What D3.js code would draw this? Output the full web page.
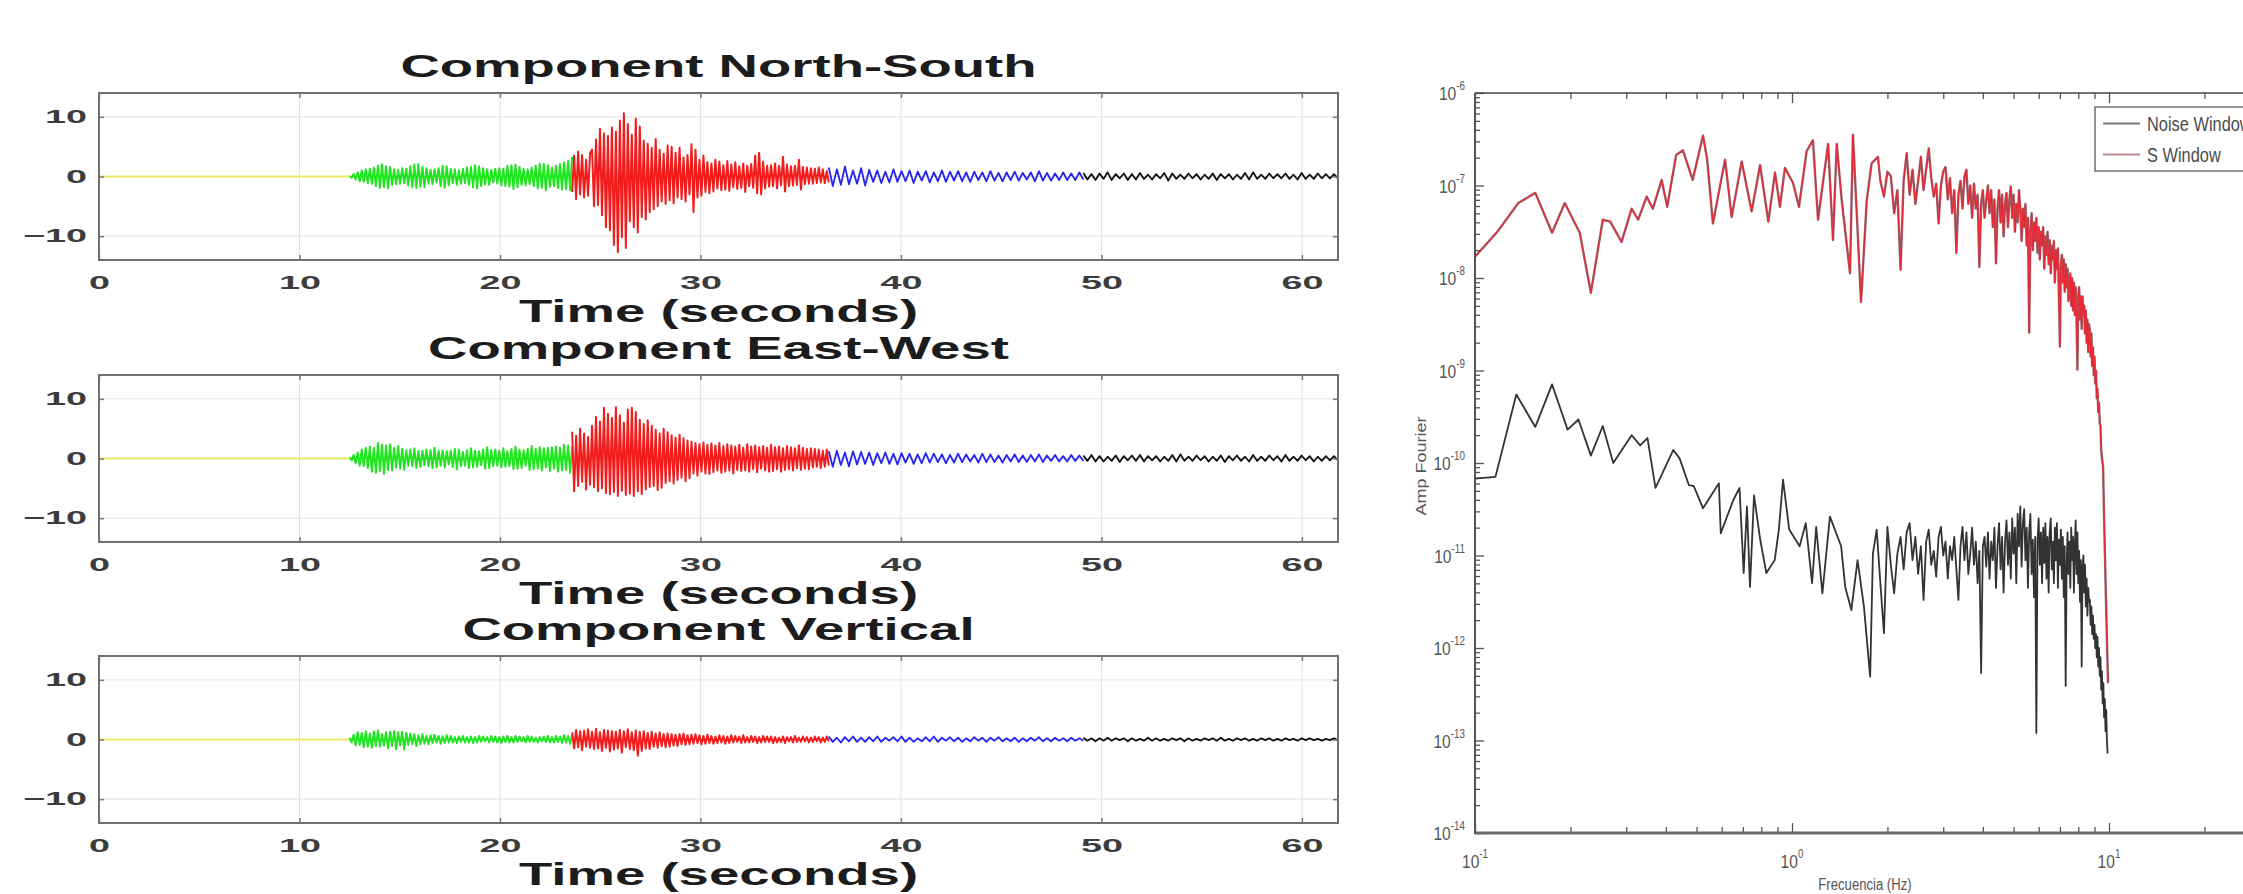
<!DOCTYPE html>
<html>
<head>
<meta charset="utf-8">
<script src="https://cdn.jsdelivr.net/npm/d3@7"></script>
<style>
  body { margin: 0; background: #fff; }
  svg { display: block; }
</style>
</head>
<body>
<svg id="chart" width="2243" height="894"></svg>
<script>
// ---------- datos: sismogramas (ventanas de tiempo) ----------
const windowEdges = [0, 12.5, 23.6, 36.4, 49.1, 61.8];
const windowColors = ["#efe968", "#1fe61f", "#f31c1c", "#2424f4", "#111111"];
const componentTitles = ["Component North-South", "Component East-West", "Component Vertical"];
const timeTicks = [0, 10, 20, 30, 40, 50, 60];
const ampTicks = [-10, 0, 10];

// Norte-Sur
const nsPre = [0, 0];
const nsGreen = [0.1,-0.2,0.4,-0.5,0.7,-0.8,1.0,-0.9,1.2,-1.1,
  1.3,-1.2,1.5,-1.6,1.8,-1.9,2.0,-1.8,1.7,-2.0,
  1.6,-1.4,1.2,-1.3,1.1,-1.2,1.4,-1.1,1.3,-1.5,
  1.7,-1.8,2.0,-1.9,2.1,-1.7,1.6,-1.8,1.4,-1.2,
  1.1,-1.3,1.2,-1.0,1.4,-1.6,1.8,-1.9,1.7,-1.5,
  1.3,-1.1,1.2,-1.4,1.0,-1.2,1.3,-1.1,1.5,-1.4,
  1.6,-1.8,1.9,-2.0,1.7,-1.6,1.4,-1.3,1.2,-1.4,
  1.1,-1.0,1.3,-1.2,1.4,-1.5,1.3,-1.6,1.8,-1.7,
  1.9,-2.1,2.0,-1.8,1.6,-1.4,1.3,-1.5,1.2,-1.3,
  1.5,-1.6,1.8,-2.0,2.2,-1.9,2.1,-2.3,1.9,-1.7,
  1.5,-1.6,1.8,-1.9,2.1,-2.2,2.4,-2.1,2.6,-2.3,3.3];
const nsRed = [-2.6,3.5,-3.8,4.2,-3.0,3.6,-3.5,2.8,-3.2,3.9,
  4.5,-5.0,6.2,-4.8,8.0,-6.5,7.2,-8.5,6.8,-9.0,
  8.2,-11.5,7.5,-12.7,9.4,-10.2,10.6,-12.0,8.8,-7.5,
  7.0,-8.5,9.7,-9.4,8.4,-6.8,6.0,-7.2,5.5,-6.0,
  4.8,-5.5,6.3,-5.0,4.5,-4.2,3.8,-4.6,5.2,-4.0,
  5.0,-4.5,4.0,-3.5,4.8,-3.8,3.2,-4.2,3.6,-3.0,
  5.4,-6.0,4.5,-3.5,2.8,-3.2,3.5,-2.6,2.4,-2.8,
  2.2,-2.5,2.8,-2.0,2.5,-2.3,1.9,-2.2,2.6,-2.4,
  2.0,-1.8,2.4,-2.1,1.7,-1.9,2.2,-2.6,1.8,-1.6,
  2.1,-1.9,3.5,-2.8,4.0,-3.0,2.5,-2.0,1.8,-1.7,
  1.9,-1.6,2.2,-2.0,1.8,-1.5,3.3,-2.5,2.0,-1.6,
  1.7,-1.5,1.8,-1.4,2.8,-2.2,1.6,-1.3,1.5,-1.2,
  1.4,-1.2,1.3,-1.1,1.5,-1.0,1.2,-1.1,0.9,-1.0];
const nsBlue = [1.5,-1.6,1.2,-1.4,1.7,-1.3,1.0,-1.2,1.4,-1.5,
  1.1,-0.9,1.0,-1.1,0.8,-1.0,1.2,-0.9,0.9,-0.8,
  1.0,-1.1,0.8,-0.7,0.9,-1.0,0.7,-0.8,1.0,-0.9,
  0.8,-0.7,0.9,-0.8,0.7,-0.9,0.8,-0.6,0.7,-0.8,
  0.9,-0.7,0.6,-0.8,0.7,-0.6,0.8,-0.7,0.6,-0.5,
  0.7,-0.8,0.9,-0.7,0.6,-0.7,0.5,-0.6,0.7,-0.6,
  0.5,-0.6,0.7,-0.5];
const nsBlack = [0.6,-0.5,0.4,-0.6,0.5,-0.4,0.7,-0.6,0.4,-0.3,
  0.5,-0.6,0.4,-0.5,0.6,-0.4,0.3,-0.5,0.4,-0.3,
  0.6,-0.7,0.5,-0.4,0.3,-0.4,0.5,-0.3,0.4,-0.5,
  0.3,-0.4,0.5,-0.6,0.4,-0.3,0.4,-0.5,0.3,-0.4,
  0.6,-0.5,0.7,-0.4,0.3,-0.4,0.5,-0.3,0.4,-0.3,
  0.5,-0.4,0.3,-0.5,0.6,-0.4,0.3,-0.4,0.5,-0.3,
  0.4,-0.3,0.4,-0.3];

// Este-Oeste
const ewPre = [0, 0];
const ewGreen = [0.2,-0.3,0.6,-0.8,1.0,-1.2,1.5,-1.3,1.8,-1.6,
  2.0,-2.2,1.8,-2.4,2.6,-2.1,2.3,-2.6,2.2,-1.9,
  2.4,-2.0,1.8,-1.5,2.1,-1.7,1.6,-1.9,1.4,-1.2,
  1.5,-1.3,1.7,-1.6,1.2,-1.4,1.3,-1.1,1.5,-1.3,
  1.4,-1.6,1.8,-1.5,1.3,-1.2,1.4,-1.5,1.2,-1.0,
  1.3,-1.4,1.6,-1.8,1.5,-1.3,1.1,-1.2,1.4,-1.6,
  1.7,-1.5,1.3,-1.4,1.2,-1.1,1.5,-1.7,1.9,-1.6,
  1.4,-1.3,1.5,-1.2,1.3,-1.5,1.7,-1.4,1.2,-1.3,
  1.6,-1.8,2.0,-1.7,1.5,-1.6,1.4,-1.2,1.6,-1.9,
  2.1,-1.8,1.6,-1.7,1.9,-2.0,1.7,-1.5,1.8,-2.1,
  1.9,-1.7,2.0,-2.2,1.8,-2.0,2.3,-1.9,2.2,-2.4,2.0];
const ewRed = [4.5,-5.5,3.8,-4.6,5.0,-3.9,4.2,-5.2,3.6,-4.4,
  5.5,-4.8,7.0,-5.5,6.2,-5.0,8.5,-5.8,7.5,-6.0,
  6.8,-5.6,8.6,-6.3,7.2,-5.4,6.0,-6.1,8.2,-5.9,
  8.5,-6.3,7.8,-5.5,6.5,-6.0,5.8,-5.2,6.4,-4.8,
  5.5,-4.6,4.8,-5.3,4.2,-4.9,5.0,-4.1,4.4,-3.8,
  3.9,-4.2,3.5,-3.6,4.0,-3.2,3.4,-3.8,3.0,-3.3,
  2.8,-2.5,2.6,-2.9,2.4,-2.2,2.7,-2.5,2.3,-2.6,
  2.5,-2.3,2.2,-2.0,2.6,-2.4,2.1,-2.2,2.4,-2.0,
  2.2,-2.5,2.0,-1.9,2.3,-2.1,1.8,-2.0,2.4,-2.2,
  2.0,-1.8,2.2,-2.3,1.9,-1.7,2.1,-2.0,1.8,-2.2,
  2.3,-2.1,1.9,-1.8,2.0,-2.2,1.7,-1.9,2.1,-1.8,
  1.9,-2.0,1.7,-1.6,2.2,-1.9,1.8,-1.7,1.6,-1.8,
  1.7,-1.5,1.6,-1.4,1.5,-1.6,1.3,-1.4,1.5,-1.2];
const ewBlue = [1.2,-1.4,1.3,-1.1,1.0,-1.3,1.2,-1.0,1.1,-0.9,
  1.0,-1.1,0.9,-0.8,1.0,-0.9,0.8,-1.0,0.9,-0.7,
  0.8,-0.9,0.7,-0.8,0.9,-0.7,0.8,-0.6,0.7,-0.8,
  0.6,-0.7,0.8,-0.6,0.7,-0.5,0.6,-0.7,0.8,-0.6,
  0.7,-0.6,0.5,-0.7,0.6,-0.5,0.7,-0.6,0.5,-0.6,
  0.6,-0.5,0.7,-0.6,0.5,-0.4,0.6,-0.5,0.4,-0.5,
  0.6,-0.4,0.5,-0.4];
const ewBlack = [0.5,-0.4,0.6,-0.5,0.4,-0.5,0.3,-0.4,0.5,-0.6,
  0.4,-0.3,0.5,-0.4,0.6,-0.5,0.4,-0.3,0.4,-0.5,
  0.3,-0.4,0.6,-0.5,0.7,-0.4,0.3,-0.4,0.5,-0.3,
  0.4,-0.5,0.3,-0.4,0.5,-0.6,0.4,-0.3,0.5,-0.4,
  0.3,-0.5,0.6,-0.4,0.3,-0.4,0.5,-0.3,0.4,-0.5,
  0.6,-0.4,0.3,-0.4,0.5,-0.3,0.4,-0.5,0.3,-0.4,
  0.4,-0.3,0.4,-0.3];

// Vertical
const vPre = [0, 0];
const vGreen = [0.3,-0.5,0.8,-1.0,1.2,-0.9,1.1,-1.3,1.4,-1.2,
  1.0,-1.4,1.3,-1.1,1.5,-1.2,0.9,-1.0,1.2,-1.5,
  1.3,-1.1,1.4,-1.6,1.2,-1.0,1.3,-1.7,1.1,-0.9,
  1.0,-0.8,0.9,-1.1,0.7,-0.8,0.9,-0.7,0.6,-0.8,
  0.7,-0.6,0.8,-0.5,0.6,-0.7,0.5,-0.6,0.7,-0.5,
  0.6,-0.5,0.4,-0.6,0.5,-0.4,0.6,-0.5,0.4,-0.5,
  0.5,-0.6,0.4,-0.5,0.6,-0.4,0.5,-0.3,0.4,-0.5,
  0.6,-0.4,0.5,-0.5,0.4,-0.6,0.5,-0.4,0.6,-0.5,
  0.4,-0.5,0.6,-0.4,0.5,-0.3,0.4,-0.5,0.6,-0.4,
  0.5,-0.4,0.3,-0.5,0.4,-0.3,0.5,-0.4,0.6,-0.5,
  0.4,-0.5,0.6,-0.4,0.5,-0.6,0.7,-0.5,0.6,-0.7,0.8];
const vRed = [1.2,-1.5,1.6,-1.3,1.4,-1.8,1.5,-1.2,1.7,-1.4,
  1.3,-1.6,1.8,-1.5,1.2,-1.9,1.6,-1.4,1.5,-2.0,
  1.4,-1.7,1.3,-1.5,1.6,-2.2,1.4,-1.3,1.7,-1.6,
  1.2,-1.8,1.5,-2.7,1.3,-1.9,1.4,-1.5,1.1,-1.6,
  1.3,-1.2,1.0,-1.4,1.2,-1.1,0.9,-1.3,1.0,-1.2,
  0.9,-1.0,0.8,-1.1,0.9,-0.8,1.0,-0.9,0.7,-0.8,
  0.8,-0.7,0.9,-0.6,0.7,-0.8,0.6,-0.7,0.8,-0.6,
  0.6,-0.7,0.5,-0.6,0.7,-0.5,0.6,-0.7,0.5,-0.6,
  0.7,-0.5,0.6,-0.4,0.5,-0.6,0.7,-0.5,0.4,-0.5,
  0.6,-0.4,0.5,-0.6,0.4,-0.5,0.6,-0.4,0.5,-0.4,
  0.5,-0.6,0.4,-0.5,0.3,-0.4,0.5,-0.6,0.4,-0.3,
  0.4,-0.5,0.6,-0.4,0.3,-0.4,0.5,-0.3,0.4,-0.5,
  0.3,-0.4,0.5,-0.3,0.4,-0.5,0.3,-0.4,0.5,-0.3];
const vBlue = [0.5,-0.4,0.3,-0.5,0.4,-0.3,0.5,-0.4,0.3,-0.4,
  0.4,-0.3,0.5,-0.4,0.3,-0.2,0.4,-0.3,0.5,-0.4,
  0.3,-0.4,0.2,-0.3,0.4,-0.3,0.5,-0.4,0.3,-0.2,
  0.4,-0.3,0.3,-0.4,0.2,-0.3,0.4,-0.2,0.3,-0.4,
  0.3,-0.2,0.4,-0.3,0.2,-0.3,0.3,-0.4,0.2,-0.3,
  0.3,-0.2,0.4,-0.3,0.2,-0.3,0.3,-0.2,0.2,-0.3,
  0.3,-0.2,0.2,-0.2];
const vBlack = [0.3,-0.2,0.2,-0.3,0.2,-0.2,0.3,-0.2,0.2,-0.1,
  0.2,-0.3,0.2,-0.2,0.1,-0.2,0.3,-0.2,0.2,-0.2,
  0.1,-0.2,0.2,-0.1,0.2,-0.3,0.2,-0.2,0.1,-0.2,
  0.2,-0.1,0.2,-0.2,0.3,-0.2,0.1,-0.2,0.2,-0.1,
  0.2,-0.2,0.1,-0.2,0.2,-0.1,0.2,-0.2,0.1,-0.2,
  0.2,-0.1,0.1,-0.2,0.2,-0.1,0.2,-0.1,0.1,-0.2,
  0.1,-0.1,0.2,-0.1];

// ---------- datos: espectros de Fourier (log10 de la amplitud) ----------
const freqMajor = [0.1, 1, 10];
const ampExponents = [-6, -7, -8, -9, -10, -11, -12, -13, -14];
const legendLabels = ["Noise Window", "S Window"];

// [frecuencia Hz, log10(amp)]
const sWindowLow = [[0.100,-7.77],[0.117,-7.51],[0.137,-7.19],[0.155,-7.08],[0.175,-7.51],[0.192,-7.19],
  [0.214,-7.51],[0.232,-8.16],[0.253,-7.37],[0.267,-7.39],[0.290,-7.61],[0.312,-7.25],[0.327,-7.37],
  [0.348,-7.12],[0.364,-7.25],[0.388,-6.94],[0.404,-7.23],[0.431,-6.67],[0.453,-6.62],[0.486,-6.94],
  [0.524,-6.46],[0.540,-6.72],[0.563,-7.41],[0.615,-6.72],[0.645,-7.34],[0.694,-6.74],[0.746,-7.28],
  [0.793,-6.78],[0.842,-7.39],[0.884,-6.86],[0.916,-7.23],[0.950,-6.81],[1.007,-6.97],[1.052,-7.23],
  [1.112,-6.63],[1.164,-6.51],[1.208,-7.37],[1.300,-6.55],[1.347,-7.59],[1.384,-6.55],[1.435,-7.16],
  [1.524,-7.95],[1.557,-6.45],[1.651,-8.26],[1.721,-7.16],[1.783,-6.76],[1.867,-6.69]];
const sWindowDenseStart = 1.90, sWindowDenseStep = 0.05;
const sWindowDense = [-6.95,-7.12,-6.85,-6.90,-7.30,-7.05,-7.91,-6.95,-6.65,-7.10,
  -6.83,-7.20,-6.95,-6.69,-7.05,-6.82,-6.60,-6.92,-7.12,-6.98,
  -7.41,-7.00,-6.85,-6.80,-7.15,-6.92,-7.30,-7.05,-7.73,-7.10,
  -6.95,-7.25,-6.90,-6.83,-7.20,-7.00,-7.35,-6.98,-7.25,-7.10,
  -7.88,-7.20,-7.05,-7.35,-7.16,-7.00,-7.30,-7.05,-7.45,-7.15,
  -7.84,-7.25,-7.05,-7.40,-7.10,-7.55,-7.20,-7.08,-7.45,-7.15,
  -7.01,-7.35,-7.10,-7.50,-7.20,-7.40,-7.05,-7.25,-7.60,-7.25,
  -7.45,-7.20,-7.65,-7.35,-8.59,-7.50,-7.30,-7.70,-7.40,-7.60,
  -7.35,-7.73,-7.45,-7.80,-7.50,-7.65,-7.45,-7.90,-7.55,-7.75,
  -7.50,-7.85,-7.59,-7.95,-7.65,-7.80,-7.60,-8.05,-7.70,-7.90,
  -7.68,-8.20,-8.74,-7.85,-7.75,-8.05,-7.80,-8.15,-7.85,-8.10,
  -7.90,-8.25,-8.06,-7.95,-8.30,-8.00,-8.35,-8.05,-8.40,-8.10,
  -8.45,-8.99,-8.20,-8.10,-8.45,-8.20,-8.55,-8.20,-8.40,-8.30,
  -8.60,-8.35,-8.70,-8.45,-8.80,-8.50,-8.56,-8.85,-8.60,-8.95,
  -8.75,-9.05,-8.85,-9.14,-9.00,-9.30,-9.20,-9.45,-9.35,-9.57,
  -9.60,-9.85,-9.95];
const sWindowTail = [[9.58,-10.04],[9.65,-10.6],[9.71,-11.0],[9.80,-11.6],[9.93,-12.38]];

const noiseLow = [[0.100,-10.17],[0.116,-10.15],[0.135,-9.26],[0.155,-9.61],[0.175,-9.15],[0.196,-9.64],
  [0.212,-9.53],[0.232,-9.92],[0.253,-9.60],[0.273,-10.00],[0.312,-9.70],[0.332,-9.81],[0.350,-9.73],
  [0.371,-10.27],[0.422,-9.86],[0.442,-9.95],[0.473,-10.24],[0.490,-10.25],[0.524,-10.49],[0.588,-10.22],
  [0.596,-10.76],[0.653,-10.40],[0.683,-10.27],[0.704,-11.19],[0.721,-10.47],[0.737,-11.34],[0.759,-10.35],
  [0.794,-10.83],[0.830,-11.19],[0.882,-11.05],[0.909,-10.72],[0.937,-10.18],[0.980,-10.72],[1.057,-10.90],
  [1.105,-10.65],[1.157,-11.30],[1.192,-10.69],[1.247,-11.41],[1.317,-10.58],[1.429,-10.90],[1.472,-11.34],
  [1.539,-11.59],[1.610,-11.05],[1.686,-11.55],[1.764,-12.31]];
const noiseDenseStart = 1.80, noiseDenseStep = 0.05;
const noiseDense = [-10.98,-10.72,-11.30,-11.84,-10.69,-11.10,-11.41,-10.98,-10.80,-11.15,
  -10.75,-10.65,-11.05,-10.80,-11.20,-10.90,-11.48,-10.85,-10.72,-11.10,
  -10.95,-11.23,-10.80,-10.69,-11.00,-10.85,-11.25,-10.90,-11.05,-10.80,
  -11.15,-11.48,-10.90,-10.69,-11.05,-10.75,-11.20,-10.98,-10.70,-11.10,
  -10.85,-11.30,-10.95,-12.27,-10.90,-10.80,-11.12,-10.75,-11.25,-10.85,
  -11.05,-10.70,-11.35,-10.90,-10.65,-11.15,-10.80,-11.40,-10.85,-10.62,
  -11.10,-10.75,-11.25,-10.60,-10.98,-10.70,-11.30,-10.55,-10.90,-10.47,
  -11.12,-10.65,-10.50,-11.05,-10.70,-11.35,-10.75,-10.55,-11.20,-10.83,
  -11.45,-10.80,-12.92,-10.83,-10.60,-11.10,-10.75,-11.30,-10.70,-11.08,
  -10.65,-11.25,-10.80,-11.40,-10.75,-10.60,-11.15,-10.85,-11.30,-10.70,
  -11.05,-10.65,-11.35,-10.83,-11.10,-10.72,-11.25,-10.80,-11.45,-10.90,
  -12.41,-11.12,-10.75,-11.20,-10.85,-11.35,-10.70,-11.05,-10.80,-11.40,
  -10.90,-10.62,-11.20,-10.75,-11.30,-10.95,-11.50,-11.05,-12.20,-11.15,
  -11.00,-11.40,-11.10,-11.55,-11.25,-11.65,-11.35,-11.50,-11.48,-11.75,
  -11.55,-11.85,-11.65,-11.90,-11.75,-12.00,-11.85,-12.10,-11.88,-12.20,
  -12.00,-12.30,-12.10,-12.45,-12.25,-12.60,-12.38,-12.75,-12.55,-12.90,
  -12.67,-13.00,-13.14];

// ---------- dibujo ----------
const svg = d3.select("#chart");
const FONT = "'Liberation Sans', Arial, Helvetica, sans-serif";

const traces = [
  [nsPre, nsGreen, nsRed, nsBlue, nsBlack],
  [ewPre, ewGreen, ewRed, ewBlue, ewBlack],
  [vPre, vGreen, vRed, vBlue, vBlack]
];

// la figura original esta estirada en horizontal, se imita con scale(sx,1)
const wideTitle = 1.76, wideTick = 2.1;
const panelTops = [93, 375, 656];
const panelH = 167;
const traceWidths = [2.2, 2.0, 2.0, 1.8, 1.8];

const x = d3.scaleLinear().domain([0, 61.8]).range([99, 1338]);

function windowPoints(values, t0, t1) {
  const n = values.length;
  return values.map((v, i) => [t0 + (t1 - t0) * i / (n - 1), v]);
}

traces.forEach((windows, k) => {
  const top = panelTops[k];
  const y = d3.scaleLinear().domain([-14, 14]).range([top + panelH, top]);
  const g = svg.append("g");

  // rejilla
  g.selectAll(".vgrid").data(timeTicks.slice(1)).join("line")
    .attr("x1", d => x(d)).attr("x2", d => x(d))
    .attr("y1", top).attr("y2", top + panelH)
    .attr("stroke", "#e2e2e2").attr("stroke-width", 1);
  g.selectAll(".hgrid").data(ampTicks).join("line")
    .attr("x1", x.range()[0]).attr("x2", x.range()[1])
    .attr("y1", d => y(d)).attr("y2", d => y(d))
    .attr("stroke", "#e2e2e2").attr("stroke-width", 1);

  // trazas por ventana
  const line = d3.line().x(d => x(d[0])).y(d => y(d[1]));
  windows.forEach((vals, w) => {
    g.append("path")
      .attr("d", line(windowPoints(vals, windowEdges[w], windowEdges[w + 1])))
      .attr("fill", "none")
      .attr("stroke", windowColors[w])
      .attr("stroke-width", traceWidths[w])
      .attr("stroke-linejoin", "round");
  });

  // marco
  g.append("rect")
    .attr("x", x.range()[0]).attr("y", top)
    .attr("width", x.range()[1] - x.range()[0]).attr("height", panelH)
    .attr("fill", "none").attr("stroke", "#707070").attr("stroke-width", 2);

  // ejes
  const gx = g.append("g").attr("transform", `translate(0,${top + panelH})`)
    .call(d3.axisBottom(x).tickValues(timeTicks).tickSize(-5).tickPadding(16).tickFormat(d3.format("d")));
  const gy = g.append("g").attr("transform", `translate(${x.range()[0]},0)`)
    .call(d3.axisLeft(y).tickValues(ampTicks).tickSize(-5).tickPadding(12));
  const gt = g.append("g").attr("transform", `translate(0,${top})`)
    .call(d3.axisTop(x).tickValues(timeTicks).tickSize(-5).tickFormat(""));
  const gr = g.append("g").attr("transform", `translate(${x.range()[1]},0)`)
    .call(d3.axisRight(y).tickValues(ampTicks).tickSize(-5).tickFormat(""));
  [gx, gy, gt, gr].forEach(a => {
    a.select(".domain").remove();
    a.selectAll(".tick line").attr("stroke", "#777").attr("stroke-width", 1.5);
  });
  gx.selectAll(".tick text")
    .attr("font-family", FONT).attr("font-size", 18).attr("font-weight", "bold")
    .attr("fill", "#3c3c3c").attr("transform", `scale(${wideTick},1)`);
  gy.selectAll(".tick text")
    .attr("font-family", FONT).attr("font-size", 18).attr("font-weight", "bold")
    .attr("fill", "#3c3c3c").attr("x", -12 / wideTick).attr("transform", `scale(${wideTick},1)`);

  const cx = (x.range()[0] + x.range()[1]) / 2;
  g.append("text")
    .attr("transform", `translate(${cx},${top - 16}) scale(${wideTitle},1)`)
    .attr("text-anchor", "middle").attr("font-family", FONT).attr("font-size", 31)
    .attr("font-weight", "bold").attr("fill", "#1c1c1c")
    .text(componentTitles[k]);
  g.append("text")
    .attr("transform", `translate(${cx},${top + 229}) scale(${wideTitle},1)`)
    .attr("text-anchor", "middle").attr("font-family", FONT).attr("font-size", 31)
    .attr("font-weight", "bold").attr("fill", "#1c1c1c")
    .text("Time (seconds)");
});

// ---------- espectro ----------
const narrow = 0.82;
const fx = d3.scaleLog().domain([0.1, Math.pow(10, 1.5)]).range([1475, 2267.5]);
const fy = d3.scaleLog().domain([1e-14, 1e-6]).range([833, 93]);
const sg = svg.append("g");

const freqMinor = [];
[0.1, 1, 10].forEach(d => d3.range(2, 10).forEach(k => { if (d * k < 31.6) freqMinor.push(d * k); }));
const ampMajor = ampExponents.map(e => Math.pow(10, e));
const ampMinor = [];
d3.range(-14, -6).forEach(e => d3.range(2, 10).forEach(k => ampMinor.push(k * Math.pow(10, e))));

function toPoints(pairs) { return pairs.map(p => [p[0], Math.pow(10, p[1])]); }
function densePoints(vals, start, step) { return vals.map((v, i) => [start + i * step, Math.pow(10, v)]); }

const sPts = toPoints(sWindowLow)
  .concat(densePoints(sWindowDense, sWindowDenseStart, sWindowDenseStep))
  .concat(toPoints(sWindowTail));
const nPts = toPoints(noiseLow).concat(densePoints(noiseDense, noiseDenseStart, noiseDenseStep));

const specLine = d3.line().x(d => fx(d[0])).y(d => fy(d[1]));
sg.append("path").attr("d", specLine(nPts)).attr("fill", "none")
  .attr("stroke", "#333").attr("stroke-width", 1.8).attr("stroke-linejoin", "round");
sg.append("path").attr("d", specLine(sPts)).attr("fill", "none")
  .attr("stroke", "#a0606a").attr("stroke-width", 2.4).attr("stroke-linejoin", "round");
sg.append("path").attr("d", specLine(sPts)).attr("fill", "none")
  .attr("stroke", "#ee2430").attr("stroke-width", 1.0).attr("stroke-linejoin", "round");

// ejes del espectro
function tickAxis(axis, scale, values, size, tr) {
  const a = sg.append("g").attr("transform", tr)
    .call(axis(scale).tickValues(values).tickSize(-size).tickFormat(""));
  a.select(".domain").remove();
  a.selectAll(".tick line").attr("stroke", "#555").attr("stroke-width", 1.3);
  return a;
}
tickAxis(d3.axisBottom, fx, freqMajor, 10, "translate(0,833)");
tickAxis(d3.axisBottom, fx, freqMinor, 6, "translate(0,833)");
tickAxis(d3.axisTop, fx, freqMajor, 10, "translate(0,93)");
tickAxis(d3.axisTop, fx, freqMinor, 6, "translate(0,93)");
tickAxis(d3.axisLeft, fy, ampMajor, 9, "translate(1475,0)");
tickAxis(d3.axisLeft, fy, ampMinor, 5, "translate(1475,0)");

sg.append("line").attr("x1", 1475).attr("x2", 2243).attr("y1", 93).attr("y2", 93)
  .attr("stroke", "#444").attr("stroke-width", 1.6);
sg.append("line").attr("x1", 1475).attr("x2", 2243).attr("y1", 833).attr("y2", 833)
  .attr("stroke", "#6a6a6a").attr("stroke-width", 3);
sg.append("line").attr("x1", 1475).attr("x2", 1475).attr("y1", 93).attr("y2", 834)
  .attr("stroke", "#555").attr("stroke-width", 2);

// etiquetas 10^n
ampExponents.forEach(e => {
  const t = sg.append("text")
    .attr("transform", `translate(1465,${fy(Math.pow(10, e)) + 7}) scale(${narrow},1)`)
    .attr("text-anchor", "end").attr("font-family", FONT).attr("fill", "#555");
  t.append("tspan").attr("font-size", 19).text("10");
  t.append("tspan").attr("font-size", 12).attr("dy", -10).text(String(e));
});
freqMajor.forEach(f => {
  const e = Math.round(Math.log10(f));
  const t = sg.append("text")
    .attr("transform", `translate(${fx(f)},868) scale(${narrow},1)`)
    .attr("text-anchor", "middle").attr("font-family", FONT).attr("fill", "#555");
  t.append("tspan").attr("font-size", 19).text("10");
  t.append("tspan").attr("font-size", 12).attr("dy", -10).text(String(e));
});

sg.append("text")
  .attr("transform", `translate(1426,466) scale(${narrow},1) rotate(-90)`)
  .attr("text-anchor", "middle").attr("font-family", FONT).attr("font-size", 18)
  .attr("fill", "#555").text("Amp Fourier");
sg.append("text")
  .attr("transform", `translate(1865,890) scale(${narrow},1)`)
  .attr("text-anchor", "middle").attr("font-family", FONT).attr("font-size", 16)
  .attr("fill", "#555").text("Frecuencia (Hz)");

// leyenda (recortada por el borde derecho, como en el original)
const lg = sg.append("g");
lg.append("rect").attr("x", 2095).attr("y", 107).attr("width", 200).attr("height", 64)
  .attr("fill", "#fff").attr("stroke", "#555").attr("stroke-width", 1.3);
const legendColors = ["#7a7a7a", "#b98a90"];
legendLabels.forEach((lab, i) => {
  const ly = 123.5 + i * 31;
  lg.append("line").attr("x1", 2103).attr("x2", 2140).attr("y1", ly).attr("y2", ly)
    .attr("stroke", legendColors[i]).attr("stroke-width", 2.2);
  lg.append("text")
    .attr("transform", `translate(2147,${ly + 7}) scale(${narrow},1)`)
    .attr("font-family", FONT).attr("font-size", 20).attr("fill", "#4a4a4a").text(lab);
});
</script>
</body>
</html>
